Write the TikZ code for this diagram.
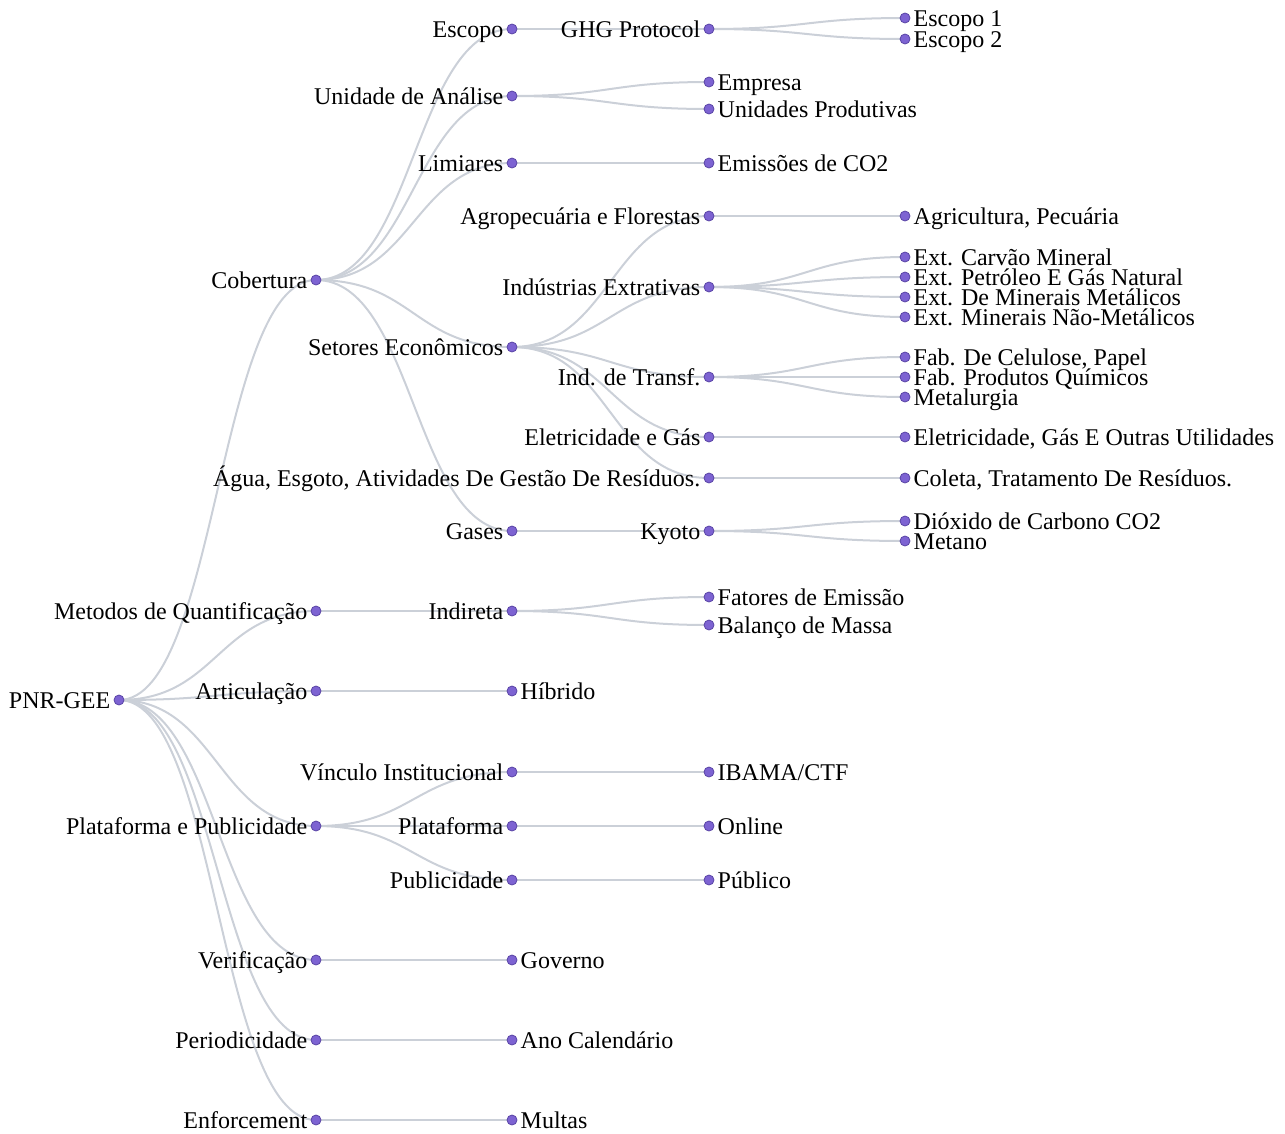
\documentclass[tikz,border=0pt]{standalone}
\usepackage{fontspec}
\setmainfont{Liberation Serif}
\usetikzlibrary{calc}
\pgfdeclarelayer{background}
\pgfsetlayers{background,main}

\definecolor{linkc}{HTML}{CBD0D8}
\definecolor{dotfill}{HTML}{7D63D2}
\definecolor{dotline}{HTML}{5A45A6}

\tikzset{
  dot/.style={circle, fill=dotfill, draw=dotline, line width=0.8pt,
              minimum size=10pt, inner sep=0pt},
  ltext/.style={inner sep=0pt, font=\fontsize{24}{24}\selectfont, text=black},
  link/.style={draw=linkc, line width=2pt},
}

% inner node: label on the left
\newcommand\tinner[4]{%
  \node[dot] (#1) at (#2,#3) {};
  \node[ltext, anchor=base east] (#1-t) at ([xshift=-8.5pt,yshift=-8.4pt]#1.center) {#4};}
% leaf node: label on the right
\newcommand\tleaf[4]{%
  \node[dot] (#1) at (#2,#3) {};
  \node[ltext, anchor=base west] (#1-t) at ([xshift=8.5pt,yshift=-8.4pt]#1.center) {#4};}
% horizontal diagonal link from parent to child
\newcommand\tlink[2]{%
  \draw[link] let \p1=(#1.center), \p2=(#2.center) in
    (#1.center) .. controls ({(\x1+\x2)/2},\y1) and ({(\x1+\x2)/2},\y2) .. (#2.center);}

\begin{document}
\begin{tikzpicture}[x=1pt,y=-1pt]
\useasboundingbox (0,0) rectangle (1285,1133);

% depth 0
\tinner{root}{119}{700}{PNR-GEE}

% depth 1
\tinner{cob}{316}{280}{Cobertura}
\tinner{met}{316}{611}{Metodos de Quantificação}
\tinner{art}{316}{691}{Articulação}
\tinner{plp}{316}{826}{Plataforma e Publicidade}
\tinner{ver}{316}{960}{Verificação}
\tinner{per}{316}{1040}{Periodicidade}
\tinner{enf}{316}{1120}{Enforcement}

% depth 2
\tinner{esc}{512}{29}{Escopo}
\tinner{una}{512}{96}{Unidade de Análise}
\tinner{lim}{512}{163}{Limiares}
\tinner{set}{512}{347}{Setores Econômicos}
\tinner{gas}{512}{531}{Gases}
\tinner{ind}{512}{611}{Indireta}
\tleaf{hib}{512}{691}{Híbrido}
\tinner{vin}{512}{772}{Vínculo Institucional}
\tinner{pla}{512}{826}{Plataforma}
\tinner{pub}{512}{880}{Publicidade}
\tleaf{gov}{512}{960}{Governo}
\tleaf{ano}{512}{1040}{Ano Calendário}
\tleaf{mul}{512}{1120}{Multas}

% depth 3
\tinner{ghg}{709}{29}{GHG Protocol}
\tleaf{emp}{709}{82}{Empresa}
\tleaf{unp}{709}{109}{Unidades Produtivas}
\tleaf{co2}{709}{163}{Emissões de CO2}
\tinner{agr}{709}{216}{Agropecuária e Florestas}
\tinner{ext}{709}{287}{Indústrias Extrativas}
\tinner{itr}{709}{377}{Ind. de Transf.}
\tinner{ele}{709}{437}{Eletricidade e Gás}
\tinner{agu}{709}{478}{Água, Esgoto, Atividades De Gestão De Resíduos.}
\tinner{kyo}{709}{531}{Kyoto}
\tleaf{fat}{709}{597}{Fatores de Emissão}
\tleaf{bal}{709}{625}{Balanço de Massa}
\tleaf{iba}{709}{772}{IBAMA/CTF}
\tleaf{onl}{709}{826}{Online}
\tleaf{pbc}{709}{880}{Público}

% depth 4
\tleaf{es1}{905}{18}{Escopo 1}
\tleaf{es2}{905}{39}{Escopo 2}
\tleaf{agp}{905}{216}{Agricultura, Pecuária}
\tleaf{ex1}{905}{257}{Ext. Carvão Mineral}
\tleaf{ex2}{905}{277}{Ext. Petróleo E Gás Natural}
\tleaf{ex3}{905}{297}{Ext. De Minerais Metálicos}
\tleaf{ex4}{905}{317}{Ext. Minerais Não-Metálicos}
\tleaf{fb1}{905}{357}{Fab. De Celulose, Papel}
\tleaf{fb2}{905}{377}{Fab. Produtos Químicos}
\tleaf{fb3}{905}{397}{Metalurgia}
\tleaf{egu}{905}{437}{Eletricidade, Gás E Outras Utilidades}
\tleaf{col}{905}{478}{Coleta, Tratamento De Resíduos.}
\tleaf{dio}{905}{521}{Dióxido de Carbono CO2}
\tleaf{mtn}{905}{541}{Metano}

\begin{pgfonlayer}{background}
\foreach \c in {cob,met,art,plp,ver,per,enf} {\tlink{root}{\c}}
\foreach \c in {esc,una,lim,set,gas} {\tlink{cob}{\c}}
\tlink{met}{ind}
\tlink{art}{hib}
\foreach \c in {vin,pla,pub} {\tlink{plp}{\c}}
\tlink{ver}{gov}
\tlink{per}{ano}
\tlink{enf}{mul}
\tlink{esc}{ghg}
\tlink{una}{emp}
\tlink{una}{unp}
\tlink{lim}{co2}
\foreach \c in {agr,ext,itr,ele,agu} {\tlink{set}{\c}}
\tlink{gas}{kyo}
\tlink{ind}{fat}
\tlink{ind}{bal}
\tlink{vin}{iba}
\tlink{pla}{onl}
\tlink{pub}{pbc}
\tlink{ghg}{es1}
\tlink{ghg}{es2}
\tlink{agr}{agp}
\foreach \c in {ex1,ex2,ex3,ex4} {\tlink{ext}{\c}}
\foreach \c in {fb1,fb2,fb3} {\tlink{itr}{\c}}
\tlink{ele}{egu}
\tlink{agu}{col}
\tlink{kyo}{dio}
\tlink{kyo}{mtn}
\end{pgfonlayer}
\end{tikzpicture}
\end{document}
